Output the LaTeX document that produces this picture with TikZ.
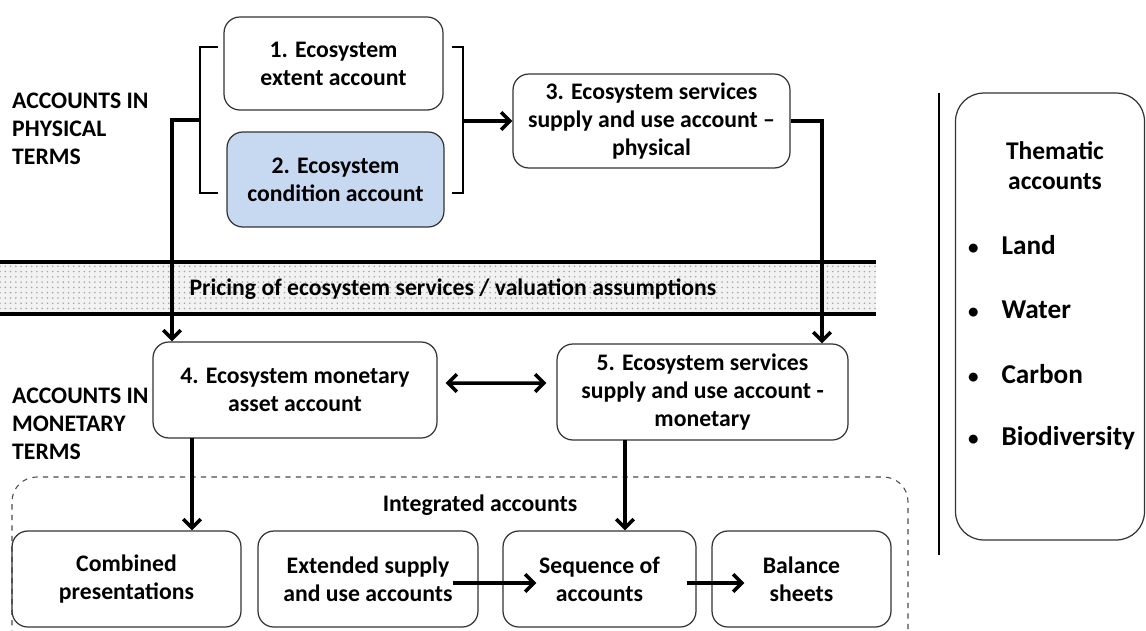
\documentclass[tikz,border=0pt]{standalone}
\usepackage{fontspec}
\setmainfont{Carlito}
\usetikzlibrary{positioning, arrows.meta, patterns}
\definecolor{condblue}{RGB}{198,217,241}

\begin{document}
\begin{tikzpicture}[x=0.02cm, y=-0.02cm,
        font=\fontsize{13.5}{16}\selectfont\bfseries,
        acc/.style={draw=black!80, rounded corners=9pt, align=center, line width=0.7pt},
        arr/.style={line width=2pt, -{Straight Barb[length=5pt, width=10pt, line width=2pt]}},
        dblarr/.style={line width=2pt, {Straight Barb[length=5pt, width=10pt, line width=2pt]}-{Straight Barb[length=5pt, width=10pt, line width=2pt]}},
        brk/.style={line width=1.6pt},
        lbl/.style={align=left, anchor=west}]
        \useasboundingbox (0,0) rectangle (1146,630);

        % Band
        \fill[gray!10] (0,262) rectangle (876,314);
        \fill[pattern=dots, pattern color=gray!70] (0,262) rectangle (876,314);
        \draw[line width=2.2pt] (0,262) -- (876,262);
        \draw[line width=2.2pt] (0,314) -- (876,314);
        \node (band) at (453,289) {Pricing of ecosystem services / valuation assumptions};

        % Nodes
        \node (ext) [acc, minimum width=4.38cm, minimum height=1.86cm] at (333.5,63.5) {1. Ecosystem\\extent account};
        \node (cond) [acc, fill=condblue, minimum width=4.34cm, minimum height=1.9cm] at (335.5,179.5) {2. Ecosystem\\condition account};
        \node (esphys) [acc, minimum width=5.54cm, minimum height=1.88cm] at (651.5,121) {3. Ecosystem services\\supply and use account --\\physical};
        \node (asset) [acc, minimum width=5.68cm, minimum height=1.92cm] at (295,390) {4. Ecosystem monetary\\asset account};
        \node (esmon) [acc, minimum width=5.82cm, minimum height=1.92cm] at (702.5,392) {5. Ecosystem services\\supply and use account -\\monetary};

        \node (phys) [lbl] at (6,129) {ACCOUNTS IN\\PHYSICAL\\TERMS};
        \node (mon) [lbl] at (6,424) {ACCOUNTS IN\\MONETARY\\TERMS};

        % Integrated accounts
        \draw[dashed, black!70, line width=0.6pt, rounded corners=14pt] (12,636) -- (12,477) -- (908,477) -- (908,636);
        \node (integ) at (480,505) {Integrated accounts};
        \node (comb) [acc, minimum width=4.58cm, minimum height=1.92cm] at (126.5,579) {Combined\\presentations};
        \node (extsu) [acc, minimum width=4.4cm, minimum height=1.92cm] at (368,579) {Extended supply\\and use accounts};
        \node (seq) [acc, minimum width=3.86cm, minimum height=1.92cm] at (599.5,579) {Sequence of\\accounts};
        \node (bal) [acc, minimum width=3.58cm, minimum height=1.92cm] at (801.5,579) {Balance\\sheets};

        % Thematic accounts
        \draw[line width=1.2pt] (939,93) -- (939,555);
        \node (them) [acc, rounded corners=16pt, minimum width=3.78cm, minimum height=8.94cm] at (1050,316.5) {};
        \node (themt) [align=center, font=\fontsize{14.5}{17}\selectfont\bfseries] at (1055,166) {Thematic\\accounts};
        \foreach \y/\t in {245/Land, 310/Water, 374/Carbon, 438/Biodiversity}
            \node[anchor=west, font=\fontsize{15.5}{18}\selectfont\bfseries] at (962,\y) {{\fontsize{12}{12}\selectfont\textbullet}\hspace{13pt}\t};

        % Brackets
        \coordinate (lmid) at (172,120);
        \coordinate (rmid) at (822,121);
        \draw[brk] (218,47) -- (200,47) -- (200,193) -- (218,193);
        \draw[brk] (452,47) -- (463,47) -- (463,193) -- (452,193);

        % Arrows
        \draw[arr] (200,120) -- (lmid) -- (lmid |- asset.north);
        \draw[arr] (463,121) -- (esphys.west);
        \draw[arr] (esphys.east) -- (rmid) -- (rmid |- esmon.north);
        \draw[dblarr] ([xshift=0.16cm, yshift=0.14cm]asset.east) -- ([xshift=-0.2cm, yshift=0.18cm]esmon.west);
        \coordinate (a4) at (192,438);
        \coordinate (a5) at (625,440);
        \draw[arr] (a4) -- (a4 |- comb.north);
        \draw[arr] (a5) -- (a5 |- seq.north);
        \draw[arr] ([xshift=-0.52cm, yshift=-0.08cm]extsu.east) -- ([xshift=0.68cm, yshift=-0.08cm]seq.west);
        \draw[arr] ([xshift=-0.2cm, yshift=-0.08cm]seq.east) -- ([xshift=0.66cm, yshift=-0.08cm]bal.west);
\end{tikzpicture}
\end{document}
